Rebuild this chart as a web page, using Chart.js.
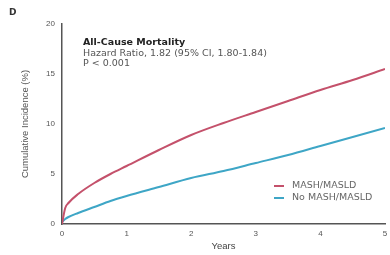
<!DOCTYPE html>
<html>
<head>
<meta charset="utf-8">
<script src="https://cdn.jsdelivr.net/npm/chart.js@4"></script>
<style>
  html, body { margin: 0; padding: 0; background: #fff; }
  #wrap { width: 390px; height: 255px; }
</style>
</head>
<body>
<div id="wrap"><canvas id="chart"></canvas></div>
<script>
// data
const years = [0, 0.05, 0.1, 0.25, 0.5, 0.75, 1, 1.5, 2, 2.5, 3, 3.5, 4, 4.5, 5]
const mashValues = [0, 1.6, 2.1, 3.0, 4.1, 5.0, 5.8, 7.4, 8.9, 10.1, 11.2, 12.3, 13.4, 14.4, 15.5]
const noMashValues = [0.2, 0.5, 0.7, 1.1, 1.7, 2.3, 2.8, 3.7, 4.6, 5.3, 6.1, 6.9, 7.8, 8.7, 9.6]
const seriesNames = ['MASH/MASLD', 'No MASH/MASLD']
const seriesColors = ['#c4516b', '#3ea6c6']
const xTicks = [0, 1, 2, 3, 4, 5]
const yTicks = [0, 5, 10, 15, 20]
const noteLines = ['All-Cause Mortality', 'Hazard Ratio, 1.82 (95% CI, 1.80-1.84)', 'P < 0.001']

const font = "'Liberation Sans', Arial, sans-serif"
const wideFont = "'DejaVu Sans', Verdana, sans-serif"
const grey = '#555'

const toPoints = vals => years.map((x, i) => ({ x: x, y: vals[i] }))

// text block, panel letter and legend
const notes = {
    id: 'notes',
    afterDraw(chart) {
        const c = chart.ctx
        c.save()
        c.textBaseline = 'middle'
        c.textAlign = 'left'
        c.fillStyle = '#333'
        c.font = 'bold 9px ' + wideFont
        c.fillText('D', 9, 13)
        c.fillStyle = '#222'
        c.font = 'bold 9.5px ' + wideFont
        c.fillText(noteLines[0], 83, 43)
        c.font = '9.5px ' + wideFont
        c.fillStyle = '#555'
        c.fillText(noteLines[1], 83, 54)
        c.fillText(noteLines[2], 83, 64)
        // legend
        seriesNames.forEach((name, i) => {
            const y = 186 + i * 12
            c.strokeStyle = seriesColors[i]
            c.lineWidth = 2
            c.beginPath()
            c.moveTo(274, y)
            c.lineTo(284, y)
            c.stroke()
            c.fillStyle = '#666'
            c.fillText(name, 292, y)
        })
        c.restore()
    }
}

const ctx = document.getElementById('chart').getContext('2d')
const chart = new Chart(ctx, {
    type: 'line',
    data: {
        datasets: seriesNames.map((name, i) => ({
            label: name,
            data: toPoints(i === 0 ? mashValues : noMashValues),
            borderColor: seriesColors[i],
            borderWidth: 2,
            pointRadius: 0,
            fill: false,
            cubicInterpolationMode: 'monotone'
        }))
    },
    options: {
        responsive: true,
        maintainAspectRatio: false,
        animation: false,
        layout: { padding: { left: 0, right: 5, top: 24, bottom: 3 } },
        plugins: {
            legend: { display: false },
            tooltip: { enabled: false }
        },
        scales: {
            x: {
                type: 'linear',
                min: 0,
                max: 5,
                afterBuildTicks: s => { s.ticks = xTicks.map(v => ({ value: v })) },
                afterFit: s => { s.height = 28 },
                grid: { display: false, drawTicks: true, tickLength: 3, tickColor: grey },
                border: { color: grey, width: 1.5 },
                ticks: { color: grey, font: { family: font, size: 8 }, padding: 2, maxRotation: 0 },
                title: { display: true, text: 'Years', color: '#444', font: { family: font, size: 9.5 }, padding: { top: 1, bottom: 0 } }
            },
            y: {
                min: 0,
                max: 20,
                afterBuildTicks: s => { s.ticks = yTicks.map(v => ({ value: v })) },
                afterFit: s => { s.width = 62 },
                grid: { display: false, drawTicks: true, tickLength: 3, tickColor: grey },
                border: { color: grey, width: 1.5 },
                ticks: { color: grey, font: { family: font, size: 8 }, padding: 4 },
                title: { display: true, text: 'Cumulative Incidence (%)', color: '#555', font: { family: font, size: 9.5 }, padding: { top: 20, bottom: 0 } }
            }
        }
    },
    plugins: [notes]
})
</script>
</body>
</html>
